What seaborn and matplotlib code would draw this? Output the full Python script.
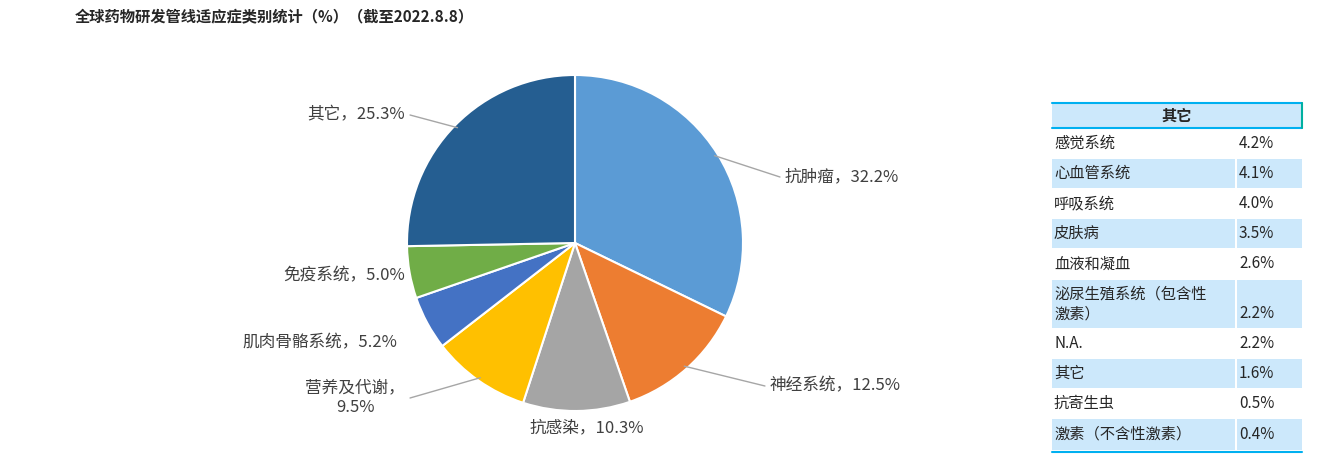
import numpy as np
import matplotlib.pyplot as plt
import seaborn as sns
from matplotlib.patches import Rectangle

sns.set_theme(style="white")
plt.rcParams['font.family'] = ['Noto Sans CJK SC', 'DejaVu Sans']

# Data
labels = ["抗肿瘤", "神经系统", "抗感染", "营养及代谢", "肌肉骨骼系统", "免疫系统", "其它"]
values = [32.2, 12.5, 10.3, 9.5, 5.2, 5.0, 25.3]
colors = ["#5b9bd5", "#ed7d31", "#a5a5a5", "#ffc000", "#4472c4", "#70ad47", "#255e91"]
label_text = ["抗肿瘤，32.2%", "神经系统，12.5%", "抗感染，10.3%", "营养及代谢，\n9.5%",
              "肌肉骨骼系统，5.2%", "免疫系统，5.0%", "其它，25.3%"]

other_names = ["感觉系统", "心血管系统", "呼吸系统", "皮肤病", "血液和凝血",
               "泌尿生殖系统（包含性\n激素）", "N.A.", "其它", "抗寄生虫", "激素（不含性激素）"]
other_values = ["4.2%", "4.1%", "4.0%", "3.5%", "2.6%", "2.2%", "2.2%", "1.6%", "0.5%", "0.4%"]

W, H = 1339, 472
fig = plt.figure(figsize=(W / 100, H / 100), dpi=100)
fig.text(75 / W, 1 - 16 / H, "全球药物研发管线适应症类别统计（%）（截至2022.8.8）",
         fontsize=11, fontweight='bold', va='center', ha='left')

cx, cy, r = 575, 243, 168
ax = fig.add_axes([(cx - r) / W, (H - cy - r) / H, 2 * r / W, 2 * r / H])
wedges, _ = ax.pie(values, colors=colors, startangle=90, counterclock=False,
                   wedgeprops=dict(edgecolor="white", linewidth=1.5))
ax.set_xlim(-1, 1)
ax.set_ylim(-1, 1)
ax.set_aspect('equal')

def px(x, y):
    return ((x - cx) / r, (cy - y) / r)

# label placement: (text pos px, ha, draw leader line)
place = [((785, 177), 'left', True), ((770, 386), 'left', True), ((587, 428), 'center', False),
         ((405, 398), 'right', True), ((397, 343), 'right', False), ((405, 276), 'right', False),
         ((405, 115), 'right', True)]
for w, txt, (pos, ha, line) in zip(wedges, label_text, place):
    ang = np.deg2rad((w.theta1 + w.theta2) / 2)
    edge = (np.cos(ang) * 0.98, np.sin(ang) * 0.98)
    tx, ty = px(*pos)
    if line:
        lx = tx - 0.03 if ha == 'left' else tx + 0.03
        ax.plot([edge[0], lx], [edge[1], ty], color="#a6a6a6", lw=1, clip_on=False)
    ax.text(tx, ty, txt, ha=ha, va='center', fontsize=12, color="#404040",
            multialignment='center' if '\n' in txt else 'left', clip_on=False)

# table of "其它" breakdown
tr = fig.transFigure
def rect(x0, y0, x1, y1, color):
    fig.patches.append(Rectangle((x0 / W, 1 - y1 / H), (x1 - x0) / W, (y1 - y0) / H,
                                 transform=tr, facecolor=color, edgecolor='none', zorder=0))

blue = "#cce8fb"
rect(1052, 103, 1302, 128, blue)
fig.add_artist(plt.Line2D([1052 / W, 1302 / W], [1 - 103 / H] * 2, transform=tr, color="#00b0f0", lw=1.5))
fig.add_artist(plt.Line2D([1052 / W, 1302 / W], [1 - 128 / H] * 2, transform=tr, color="#00b0f0", lw=1.5))
fig.add_artist(plt.Line2D([1302 / W] * 2, [1 - 103 / H, 1 - 128 / H], transform=tr, color="#00b0a0", lw=1.5))
fig.text(1177 / W, 1 - 116 / H, "其它", fontsize=11, fontweight='bold', ha='center', va='center')

rows = [(129, 158), (159, 188), (189, 218), (219, 248), (249, 279), (280, 328),
        (329, 358), (359, 388), (389, 418), (419, 450)]
for i, ((y0, y1), name, val) in enumerate(zip(rows, other_names, other_values)):
    if i % 2 == 1:
        rect(1052, y0, 1235, y1, blue)
        rect(1237, y0, 1302, y1, blue)
    fig.text(1054 / W, 1 - (y0 + y1) / 2 / H, name, fontsize=11, ha='left', va='center',
             linespacing=1.3)
    vy = (y0 + y1) / 2 if '\n' not in name else y1 - 14
    fig.text(1239 / W, 1 - vy / H, val, fontsize=11, ha='left', va='center')
fig.add_artist(plt.Line2D([1052 / W, 1302 / W], [1 - 452 / H] * 2, transform=tr, color="#00b0f0", lw=1.5))

fig.savefig("out.png", dpi=100)
